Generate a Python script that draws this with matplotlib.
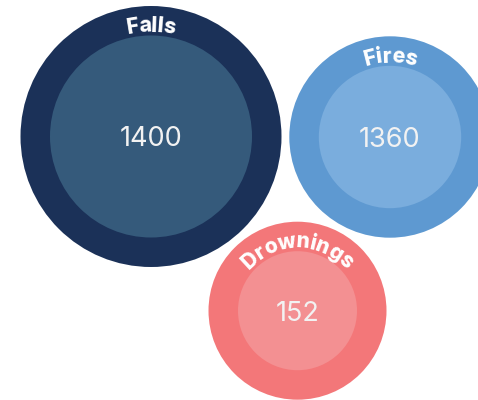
import numpy as np
import matplotlib
matplotlib.use("Agg")
import matplotlib.pyplot as plt
from matplotlib.patches import Circle
from matplotlib.font_manager import FontProperties
from matplotlib.textpath import TextToPath

# data
categories = ["Falls", "Fires", "Drownings"]
values = [1400, 1360, 152]

# layout (pixels, image coords) and colours
centers = [(151, 136.5), (390, 137), (297.5, 310.7)]
outer_r = [130.5, 100.7, 89]
ring_w = 29.5
outer_col = ["#1b3158", "#5e99d1", "#f37779"]
inner_col = ["#355a7b", "#7aaddd", "#f39092"]

W, H, DPI = 478, 400, 100
fig = plt.figure(figsize=(W / DPI, H / DPI), dpi=DPI)
ax = fig.add_axes([0, 0, 1, 1])
ax.set_xlim(0, W)
ax.set_ylim(0, H)
ax.set_aspect("equal")
ax.axis("off")

lab_fp = FontProperties(family="Inter", weight="heavy", size=15.2)
val_size = 19.5
track = 0.95
t2p = TextToPath()


def width_px(s, fp):
    if not s:
        return 0.0
    w, h, d = t2p.get_text_width_height_descent(s, fp, ismath=False)
    return w * DPI / 72.0 * track


def arc_text(s, cx, cy, R, fp):
    total = width_px(s, fp)
    for i, ch in enumerate(s):
        left = width_px(s[:i], fp)
        right = width_px(s[:i + 1], fp)
        mid = (left + right) / 2 - total / 2
        th = np.pi / 2 - mid / R
        x = cx + R * np.cos(th)
        y = cy + R * np.sin(th)
        ax.text(x, y, ch, fontproperties=fp, color="white",
                rotation=np.degrees(th - np.pi / 2), rotation_mode="anchor",
                ha="center", va="baseline")


for i in range(len(categories)):
    cx, cyi = centers[i]
    cy = H - cyi
    ro = outer_r[i]
    ri = ro - ring_w
    ax.add_patch(Circle((cx, cy), ro, color=outer_col[i], lw=0))
    ax.add_patch(Circle((cx, cy), ri, color=inner_col[i], lw=0))
    ax.text(cx, cy, str(values[i]), color="#f2f2f2", fontsize=val_size,
            family="Inter", ha="center", va="center_baseline")
    arc_text(categories[i], cx, cy, ri + 3.5, lab_fp)

fig.savefig("out.png", dpi=DPI)
